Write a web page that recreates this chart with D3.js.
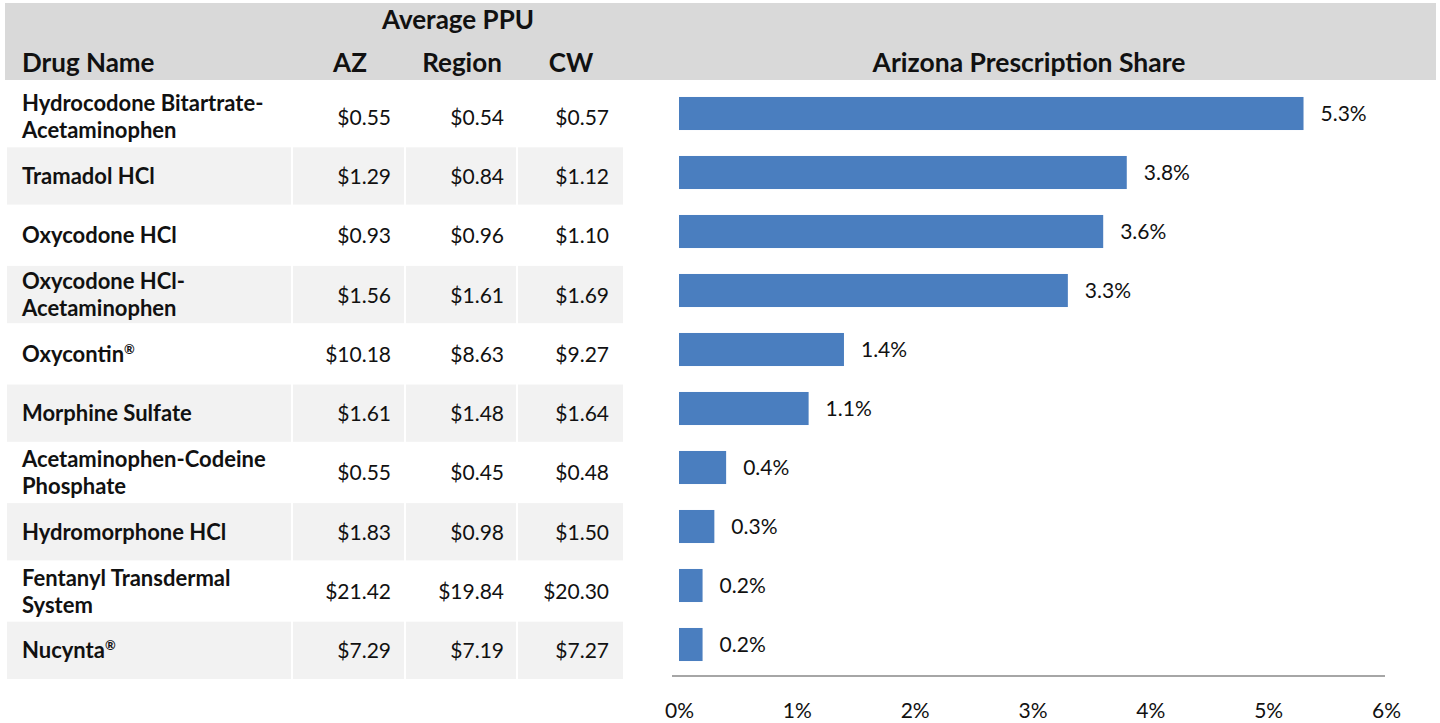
<!DOCTYPE html>
<html>
<head>
<meta charset="utf-8">
<script src="https://cdn.jsdelivr.net/npm/d3@7"></script>
<style>
  html, body { margin: 0; padding: 0; background: #fff; }
  svg { display: block; font-family: Lato, "Open Sans", sans-serif; }
</style>
</head>
<body>
<script>
// drug names (line breaks where the reference wraps)
const drugs = [
  ["Hydrocodone Bitartrate-", "Acetaminophen"],
  ["Tramadol HCl"],
  ["Oxycodone HCl"],
  ["Oxycodone HCl-", "Acetaminophen"],
  ["Oxycontin®"],
  ["Morphine Sulfate"],
  ["Acetaminophen-Codeine", "Phosphate"],
  ["Hydromorphone HCl"],
  ["Fentanyl Transdermal", "System"],
  ["Nucynta®"]
];
const ppuAZ = [0.55, 1.29, 0.93, 1.56, 10.18, 1.61, 0.55, 1.83, 21.42, 7.29];
const ppuRegion = [0.54, 0.84, 0.96, 1.61, 8.63, 1.48, 0.45, 0.98, 19.84, 7.19];
const ppuCW = [0.57, 1.12, 1.10, 1.69, 9.27, 1.64, 0.48, 1.50, 20.30, 7.27];
const rxShare = [5.3, 3.8, 3.6, 3.3, 1.4, 1.1, 0.4, 0.3, 0.2, 0.2];
const shareTicks = [0, 1, 2, 3, 4, 5, 6];

const width = 1440, height = 723;
const fmtMoney = d3.format("$.2f");

const svg = d3.select("body").append("svg")
  .attr("width", width)
  .attr("height", height);

// header band
svg.append("rect")
  .attr("x", 5).attr("y", 3)
  .attr("width", 1431).attr("height", 77)
  .attr("fill", "#d9d9d9");

const idx = d3.range(drugs.length);

// table rows
const rowY = d3.scaleBand().domain(idx).range([88, 679]).paddingInner(0.034);

// table columns: [x0, x1] and text anchor positions
const cols = [
  { x0: 7, x1: 291 },
  { x0: 293, x1: 404, right: 391, values: ppuAZ, head: "AZ", headX: 350 },
  { x0: 406, x1: 516, right: 504, values: ppuRegion, head: "Region", headX: 462 },
  { x0: 518, x1: 623, right: 609, values: ppuCW, head: "CW", headX: 571 }
];

svg.append("text")
  .attr("x", 458).attr("y", 29)
  .attr("text-anchor", "middle")
  .attr("font-size", 26).attr("font-weight", "bold")
  .attr("fill", "#111")
  .text("Average PPU");

svg.append("text")
  .attr("x", 22).attr("y", 72)
  .attr("font-size", 26).attr("font-weight", "bold")
  .attr("fill", "#111")
  .text("Drug Name");

svg.selectAll(".colhead")
  .data(cols.slice(1))
  .join("text")
  .attr("class", "colhead")
  .attr("x", (d) => d.headX).attr("y", 72)
  .attr("text-anchor", "middle")
  .attr("font-size", 26).attr("font-weight", "bold")
  .attr("fill", "#111")
  .text((d) => d.head);

const row = svg.selectAll(".row")
  .data(idx)
  .join("g")
  .attr("class", "row")
  .attr("transform", (i) => `translate(0,${rowY(i)})`);

// striped cells on odd rows
row.filter((i) => i % 2 === 1)
  .selectAll("rect")
  .data(cols)
  .join("rect")
  .attr("x", (c) => c.x0)
  .attr("width", (c) => c.x1 - c.x0)
  .attr("height", rowY.bandwidth())
  .attr("fill", "#f2f2f2");

// drug labels, one text per line, ® raised and small
const line = row.selectAll(".name")
  .data((i) => drugs[i].map((t, k) => ({ t, k, n: drugs[i].length })))
  .join("text")
  .attr("class", "name")
  .attr("x", 22)
  .attr("y", (d) => rowY.bandwidth() / 2 + 8 + (d.k - (d.n - 1) / 2) * 27)
  .attr("font-size", 22).attr("font-weight", "bold")
  .attr("fill", "#111");

line.append("tspan").text((d) => d.t.replace("®", ""));
line.filter((d) => d.t.endsWith("®"))
  .append("tspan")
  .attr("font-size", 13)
  .attr("dy", -8)
  .text("®");

// price cells
cols.slice(1).forEach((c) => {
  row.append("text")
    .attr("x", c.right)
    .attr("y", rowY.bandwidth() / 2 + 8)
    .attr("text-anchor", "end")
    .attr("font-size", 21)
    .attr("fill", "#111")
    .text((i) => fmtMoney(c.values[i]));
});

// bar chart
svg.append("text")
  .attr("x", 1029).attr("y", 72)
  .attr("text-anchor", "middle")
  .attr("font-size", 26.5).attr("font-weight", "bold")
  .attr("fill", "#111")
  .text("Arizona Prescription Share");

const x = d3.scaleLinear().domain([0, 6]).range([679, 1386]);
const barY = d3.scaleBand().domain(idx).range([84, 674]).paddingInner(0.44).paddingOuter(0.22);

svg.selectAll(".bar")
  .data(idx)
  .join("rect")
  .attr("class", "bar")
  .attr("x", x(0))
  .attr("y", (i) => barY(i))
  .attr("width", (i) => x(rxShare[i]) - x(0))
  .attr("height", barY.bandwidth())
  .attr("fill", "#4a7ebf");

svg.selectAll(".barlabel")
  .data(idx)
  .join("text")
  .attr("class", "barlabel")
  .attr("x", (i) => x(rxShare[i]) + 17)
  .attr("y", (i) => barY(i) + barY.bandwidth() / 2 + 7)
  .attr("font-size", 21)
  .attr("fill", "#111")
  .text((i) => rxShare[i].toFixed(1) + "%");

// axis baseline
svg.append("line")
  .attr("x1", 672).attr("x2", 1385)
  .attr("y1", 676).attr("y2", 676)
  .attr("stroke", "#a6a6a6").attr("stroke-width", 2);

const axis = svg.append("g")
  .attr("transform", "translate(0,700)")
  .call(d3.axisBottom(x).tickValues(shareTicks).tickSize(0).tickFormat((d) => d + "%"));
axis.select(".domain").remove();
axis.selectAll("text")
  .attr("font-family", "Lato, 'Open Sans', sans-serif")
  .attr("font-size", 21)
  .attr("fill", "#111");
</script>
</body>
</html>
